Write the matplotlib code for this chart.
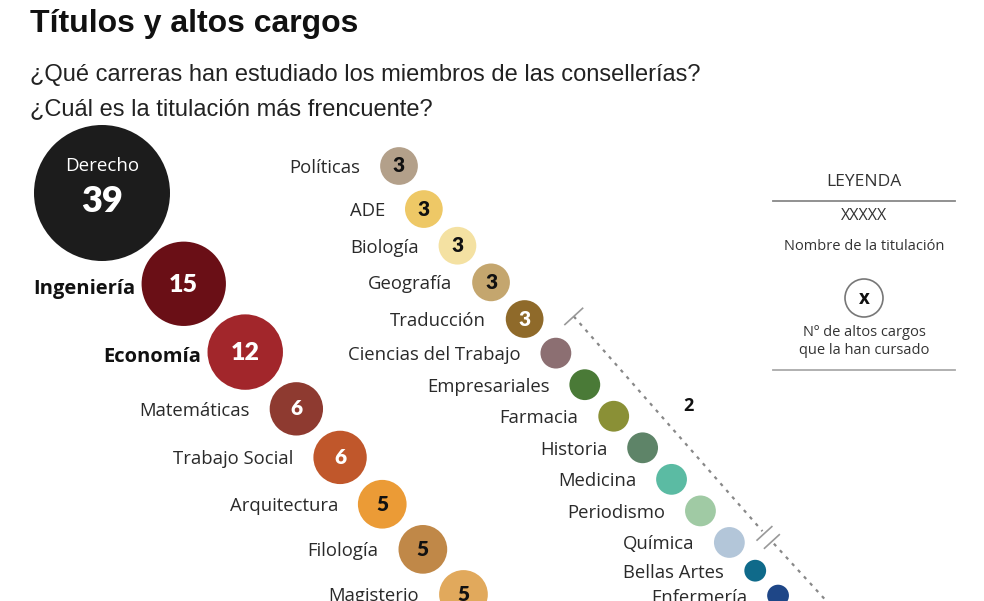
import numpy as np
import matplotlib
matplotlib.use("Agg")
import matplotlib.pyplot as plt
from matplotlib.patches import Circle
from matplotlib.colors import to_rgb

# ---------------------------------------------------------------------------
# Data: degrees studied by senior officials (count per degree)
# ---------------------------------------------------------------------------
left_names = ["Derecho", "Ingeniería", "Economía", "Matemáticas",
              "Trabajo Social", "Arquitectura", "Filología", "Magisterio"]
left_counts = [39, 15, 12, 6, 6, 5, 5, 5]
left_colors = ["#1c1c1c", "#6a0f16", "#a2262b", "#8e3a30",
               "#c0572b", "#eb9b36", "#c08848", "#e1a95c"]

right_names = ["Políticas", "ADE", "Biología", "Geografía", "Traducción",
               "Ciencias del Trabajo", "Empresariales", "Farmacia", "Historia",
               "Medicina", "Periodismo", "Química", "Bellas Artes", "Enfermería"]
right_counts = [3, 3, 3, 3, 3, 2, 2, 2, 2, 2, 2, 2, 1, 1]
right_colors = ["#b3a08a", "#eec866", "#f4e1a2", "#c4a66e", "#8f6a2a",
                "#8c6f72", "#4a7a37", "#8a9036", "#5e8468", "#5bbba3",
                "#a0caa4", "#b3c6d9", "#0f6a8a", "#1e4687"]

# ---------------------------------------------------------------------------
# Layout settings (pixel space of a 984x601 canvas)
# ---------------------------------------------------------------------------
W, H = 984, 601
R_MAX = 68          # radius of the biggest bubble
GAP = 12            # space between consecutive bubbles
LABEL_FONT = ["Open Sans", "DejaVu Sans"]
NUM_FONT = ["Lato", "DejaVu Sans"]
HEAD_FONT = ["Liberation Sans Narrow", "Liberation Sans", "DejaVu Sans"]


def radius(c):
    return R_MAX * np.sqrt(c / max(left_counts))


def chain(start, counts, angles):
    # place bubbles one after the other along a diagonal
    r = [radius(c) for c in counts]
    pts = [np.array(start, dtype=float)]
    for i in range(1, len(counts)):
        a = np.radians(angles[min(i - 1, len(angles) - 1)])
        d = r[i - 1] + r[i] + GAP
        pts.append(pts[-1] + d * np.array([np.cos(a), np.sin(a)]))
    return np.array(pts), r


def text_color(col):
    rr, gg, bb = to_rgb(col)
    return "white" if 0.299 * rr + 0.587 * gg + 0.114 * bb < 0.5 else "#111111"


fig = plt.figure(figsize=(W / 100, H / 100), dpi=100)
ax = fig.add_axes([0, 0, 1, 1])
ax.set_xlim(0, W)
ax.set_ylim(H, 0)
ax.axis("off")

# Title
fig.text(30 / W, 1 - 24 / H, "Títulos y altos cargos", family=HEAD_FONT,
         weight="bold", fontsize=23, va="center", color="#111111")
fig.text(30 / W, 1 - 75 / H, "¿Qué carreras han estudiado los miembros de las consellerías?",
         family=HEAD_FONT, fontsize=17, va="center", color="#222222")
fig.text(30 / W, 1 - 109 / H, "¿Cuál es la titulación más frencuente?",
         family=HEAD_FONT, fontsize=17, va="center", color="#222222")


def draw_column(names, counts, colors, start, angles):
    pts, rs = chain(start, counts, angles)
    for (x, y), r, name, c, col in zip(pts, rs, names, counts, colors):
        ax.add_patch(Circle((x, y), r, color=col, lw=0))
        tc = text_color(col)
        if c >= 20:
            ax.text(x, y - 27, name, ha="center", va="center", color="white",
                    family=LABEL_FONT, fontsize=13.5)
            ax.text(x, y + 9, str(c), ha="center", va="center", color="white",
                    family=NUM_FONT, weight="heavy", fontsize=26)
            continue
        if c >= 10:
            ax.text(x - r - 6, y + 5, name, ha="right", va="center", color="#111111",
                    family=LABEL_FONT, weight="bold", fontsize=14.5)
            ax.text(x, y + 1, str(c), ha="center", va="center", color=tc,
                    family=NUM_FONT, weight="heavy", fontsize=18)
        else:
            ax.text(x - r - 20, y + 2, name, ha="right", va="center", color="#2a2a2a",
                    family=LABEL_FONT, fontsize=13.3)
            if c >= 3:
                ax.text(x, y, str(c), ha="center", va="center", color=tc,
                        family=NUM_FONT, weight="heavy", fontsize=15)
    return pts, rs


draw_column(left_names, left_counts, left_colors, (102, 193), [48])
rpts, rrs = draw_column(right_names, right_counts, right_colors, (399, 166), [60, 47.5])

# Dotted bracket marking the group of degrees with 2 officials
two_idx = [i for i, c in enumerate(right_counts) if c == 2]
p0, p1 = rpts[two_idx[0]], rpts[two_idx[-1]]
d = (p1 - p0) / np.linalg.norm(p1 - p0)
n = np.array([d[1], -d[0]])
a = p0 + 38 * n - 15 * d
b = p1 + 32 * n + 14 * d
ax.plot([a[0], b[0]], [a[1], b[1]], ls=(0, (1.5, 2.5)), color="#888888", lw=1.6)
ax.plot([a[0] - 12 * n[0], a[0] + 12 * n[0]], [a[1] - 12 * n[1], a[1] + 12 * n[1]],
        color="#999999", lw=1.2)
for k in (3, 14):
    m = b + k * d
    ax.plot([m[0] - 10 * n[0], m[0] + 10 * n[0]], [m[1] - 10 * n[1], m[1] + 10 * n[1]],
            color="#999999", lw=1.2)
c0 = b + 17 * d
c1 = b + 100 * d
ax.plot([c0[0], c1[0]], [c0[1], c1[1]], ls=(0, (1.5, 2.5)), color="#888888", lw=1.6)
mid = (a + b) / 2 + 27 * n
ax.text(mid[0], mid[1], "2", ha="center", va="center", family=LABEL_FONT,
        weight="bold", fontsize=13, color="#111111")

# Legend box
LX = 864
ax.text(LX, 182, "LEYENDA", ha="center", va="center", family=LABEL_FONT,
        fontsize=12.5, color="#333333")
ax.plot([773, 955], [201, 201], color="#888888", lw=1.3)
ax.text(LX, 216, "XXXXX", ha="center", va="center", family=LABEL_FONT,
        fontsize=11.5, color="#333333")
ax.text(LX, 246, "Nombre de la titulación", ha="center", va="center",
        family=LABEL_FONT, fontsize=10.5, color="#333333")
ax.add_patch(Circle((LX, 298), 19, fill=False, ec="#777777", lw=1.2))
ax.text(LX, 299, "x", ha="center", va="center", family=LABEL_FONT,
        weight="bold", fontsize=13.5, color="#111111")
ax.text(LX, 332, "Nº de altos cargos", ha="center", va="center",
        family=LABEL_FONT, fontsize=10.5, color="#333333")
ax.text(LX, 350, "que la han cursado", ha="center", va="center",
        family=LABEL_FONT, fontsize=10.5, color="#333333")
ax.plot([773, 955], [370, 370], color="#aaaaaa", lw=1.3)

fig.savefig("out.png", dpi=100)
